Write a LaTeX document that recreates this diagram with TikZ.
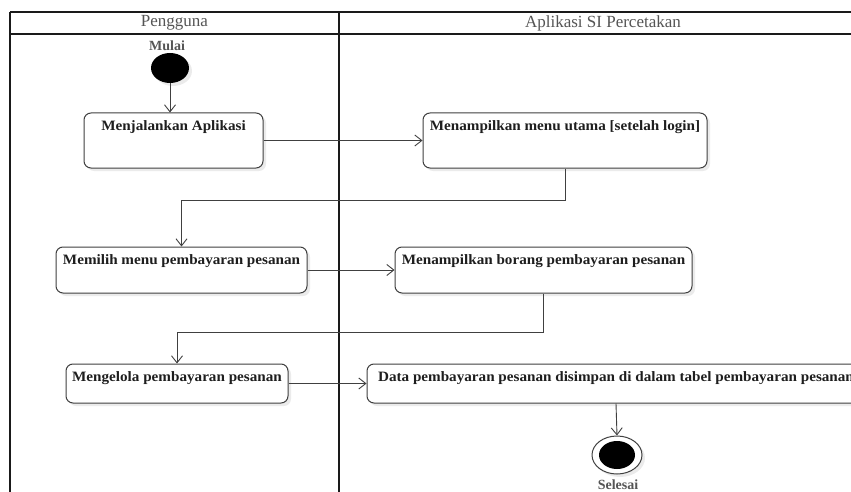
\documentclass[tikz,border=0pt]{standalone}
\usepackage{fontspec}
\setmainfont{Liberation Serif}
\newfontfamily\widefont[FakeStretch=1.06]{Liberation Serif}
\usetikzlibrary{arrows.meta,shadows,shapes.geometric}
\definecolor{lanecol}{HTML}{1A1A1A}
\definecolor{boxcol}{HTML}{404040}
\definecolor{txtcol}{HTML}{1E1E1E}
\definecolor{graytxt}{HTML}{555555}
\begin{document}
\begin{tikzpicture}[x=1pt,y=-1pt,
  lane/.style={draw=lanecol, line width=2pt},
  act/.style={draw=boxcol, line width=1pt, rounded corners=7pt, fill=white,
    drop shadow={shadow xshift=3pt, shadow yshift=-3pt, fill=black, opacity=0.08},
    inner sep=0pt},
  lbl/.style={font=\widefont\bfseries\fontsize{14.3}{16}\selectfont, text=txtcol,
    anchor=north, inner sep=0pt, yshift=-7.5pt},
  hdr/.style={font=\fontsize{17}{19}\selectfont, text=graytxt, inner sep=0pt},
  term/.style={font=\bfseries\fontsize{14}{16}\selectfont, text=graytxt, inner sep=0pt},
  flow/.style={draw=boxcol, line width=0.9pt, -{Straight Barb[length=7pt,width=11pt]}},
  startnode/.style={ellipse, fill=black, minimum width=38pt, minimum height=30pt, inner sep=0pt,
    drop shadow={shadow xshift=3pt, shadow yshift=-3pt, fill=black, opacity=0.08}},
]
\useasboundingbox (0,0) rectangle (851,492);
\clip (0,0) rectangle (851,492);
\fill[white] (0,0) rectangle (851,492);

% swimlanes
\draw[lane] (10,12) -- (851,12);
\draw[lane] (10,34) -- (851,34);
\draw[lane] (10,12) -- (10,492);
\draw[lane] (339,12) -- (339,492);
\node[hdr] (h1) at (174.5,23) {Pengguna};
\node[hdr] (h2) at (603,23) {Aplikasi SI Percetakan};

% start
\node[term] (mulai) at (167,46) {Mulai};
\node[startnode] (start) at (170,68) {};

% activities
\node[act, minimum width=179pt, minimum height=55pt,
  label={[lbl]north:Menjalankan Aplikasi}] (a1) at (173.5,140.5) {};
\node[act, minimum width=284pt, minimum height=55pt,
  label={[lbl]north:Menampilkan menu utama [setelah login]}] (a2) at (565,140.5) {};
\node[act, minimum width=251pt, minimum height=46pt,
  label={[lbl]north:Memilih menu pembayaran pesanan}] (a3) at (181.5,270) {};
\node[act, minimum width=297pt, minimum height=46pt,
  label={[lbl]north:Menampilkan borang pembayaran pesanan}] (a4) at (543.5,270) {};
\node[act, minimum width=222pt, minimum height=39pt,
  label={[lbl]north:Mengelola pembayaran pesanan}] (a5) at (177,383.5) {};
\node[act, minimum width=498pt, minimum height=39pt,
  label={[lbl]north:Data pembayaran pesanan disimpan di dalam tabel pembayaran pesanan}] (a6) at (616,383.5) {};

% end
\node[ellipse, draw=boxcol, line width=1pt, fill=white, minimum width=50pt, minimum height=38pt,
  drop shadow={shadow xshift=3pt, shadow yshift=-3pt, fill=black, opacity=0.08}] (endo) at (617,455) {};
\node[ellipse, fill=black, minimum width=36pt, minimum height=28pt, inner sep=0pt] (endi) at (endo.center) {};
\node[term] (selesai) at (618,485) {Selesai};

% flows
\draw[flow] (start.south) -- (start.south |- a1.north);
\draw[flow] (a1.east) -- (a2.west);
\draw[flow] (a2.south) -- ++(0,32) -| (a3.north);
\draw[flow] (a3.east) -- (a4.west);
\draw[flow] (a4.south) -- ++(0,39) -| (a5.north);
\draw[flow] (a5.east) -- (a6.west);
\draw[flow] (a6.south) -- (endo.north);
\end{tikzpicture}
\end{document}
